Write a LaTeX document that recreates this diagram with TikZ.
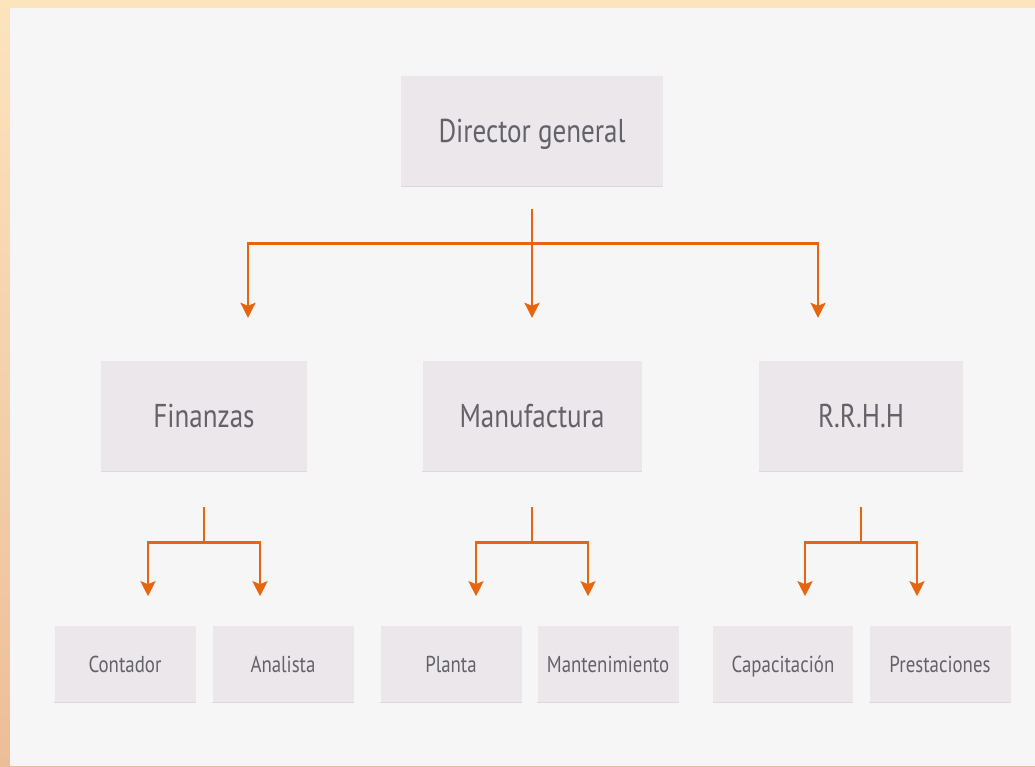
\documentclass[tikz,border=0pt]{standalone}
\usepackage{fontspec}
\setmainfont[FakeStretch=0.82]{PT Sans}
\usetikzlibrary{arrows.meta}
\definecolor{fondoa}{HTML}{FCE4BC}
\definecolor{fondob}{HTML}{ECBE98}
\definecolor{panel}{HTML}{F6F6F6}
\definecolor{caja}{HTML}{EBE7EA}
\definecolor{sombra}{HTML}{DCD8DB}
\definecolor{texto}{HTML}{636169}
\definecolor{naranja}{HTML}{E8650F}

\begin{document}
\begin{tikzpicture}[x=1pt,y=-1pt]
	\tikzset{
		puesto/.style={fill=caja,text=texto,inner sep=0pt,text height=23pt,text depth=0pt,font=\fontsize{33}{36}\selectfont},
		area/.style={puesto,minimum width=206pt,minimum height=110pt},
		tarea/.style={puesto,minimum width=141pt,minimum height=77pt,text height=16pt,font=\fontsize{23}{26}\selectfont},
		flecha/.style={draw=naranja,line width=2.6pt,-{Stealth[width=15pt,length=15pt,inset=3pt]}},
		rama/.style={draw=naranja,line width=2.6pt}
	}
	\useasboundingbox (0,0) rectangle (1035,766);
	\shade[top color=fondoa,bottom color=fondob] (0,0) rectangle (1035,766);
	\fill[panel] (10,8) rectangle (1035,766);
	% jefe
	\node[puesto,minimum width=262pt,minimum height=111pt] (dir) at (532,131) {Director general};
	% areas
	\node[area] (fin) at (204,416) {Finanzas};
	\node[area,minimum width=219pt] (man) at (532,416) {Manufactura};
	\node[area,minimum width=204pt] (rrhh) at (861,416) {R.R.H.H};
	% tareas
	\node[tarea] (cont) at (125,664) {Contador};
	\node[tarea] (anal) at (283,664) {Analista};
	\node[tarea] (plan) at (451,664) {Planta};
	\node[tarea] (mant) at (608,664) {Mantenimiento};
	\node[tarea,minimum width=140pt] (capa) at (783,664) {Capacitación};
	\node[tarea] (pres) at (940,664) {Prestaciones};
	% sombras
	\foreach \n in {dir,fin,man,rrhh,cont,anal,plan,mant,capa,pres}
		\draw[sombra,line width=1.2pt] (\n.south west) -- (\n.south east);
	% conectores nivel 1
	\coordinate (c0) at ([yshift=-57pt]dir.south);
	\draw[rama] ([yshift=-22pt]dir.south) -- (c0);
	\draw[flecha] (c0) -- ([yshift=43pt]man.north);
	\draw[flecha] (c0) -| ([xshift=44pt,yshift=43pt]fin.north);
	\draw[flecha] (c0) -| ([xshift=-43pt,yshift=43pt]rrhh.north);
	% conectores nivel 2
	\foreach \a in {fin,man,rrhh}{
		\coordinate (c\a) at ([yshift=-71pt]\a.south);
		\coordinate (i\a) at ([xshift=-56pt,yshift=-125pt]\a.south);
		\coordinate (d\a) at ([xshift=56pt,yshift=-125pt]\a.south);
		\draw[rama] ([yshift=-36pt]\a.south) -- (c\a);
		\draw[flecha] (c\a) -| (i\a);
		\draw[flecha] (c\a) -| (d\a);
	}
\end{tikzpicture}
\end{document}
